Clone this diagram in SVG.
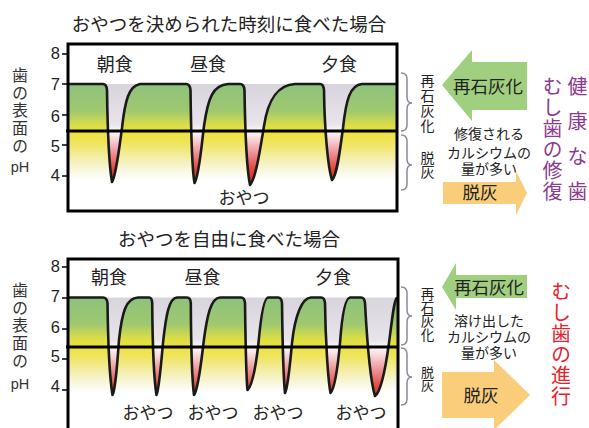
<svg xmlns="http://www.w3.org/2000/svg" width="589" height="428" viewBox="0 0 589 428">
<style>
text{font-family:"Noto Sans CJK JP","Liberation Sans",sans-serif;fill:#222}
.v{writing-mode:vertical-rl;text-orientation:upright}
.num{font-family:"Liberation Sans","Noto Sans CJK JP",sans-serif;font-size:16.5px;text-anchor:end}
.ttl{font-size:18.5px;text-anchor:middle}
.meal{font-size:18px;text-anchor:middle}
.snk{font-size:17px;text-anchor:middle}
.vy{font-size:16px;letter-spacing:1.7px;fill:#333}
.ph{font-family:"Liberation Sans",sans-serif;font-size:14.5px;text-anchor:middle;fill:#333}
.vs{font-size:14px;letter-spacing:1px}
.mid{font-family:"Liberation Sans","Noto Sans CJK JP",sans-serif;font-size:14px;text-anchor:middle}
.arr{font-size:17.5px;text-anchor:middle}
.pur{font-size:20px;fill:#8b3a8e}
.purh{font-size:20px;fill:#8b3a8e;text-anchor:middle}
.red{font-size:20px;letter-spacing:1px;fill:#e8232d}
.curve{fill:none;stroke:#1a1a1a;stroke-width:2.6;stroke-linejoin:round}
.box{fill:none;stroke:#000;stroke-width:3}
.hl{stroke:#000;stroke-width:3}
.tick{stroke:#000;stroke-width:1.5}
.brace{fill:none;stroke:#8a8a98;stroke-width:1.5}
.garr{fill:#9fcf7f}
.oarr{fill:#f9cd7a}
</style>
<defs>
<linearGradient id="bgT" gradientUnits="userSpaceOnUse" x1="0" y1="84" x2="0" y2="180">
<stop offset="0" stop-color="#8dc27c"/><stop offset="0.28" stop-color="#9fc870"/><stop offset="0.42" stop-color="#d8dc48"/><stop offset="0.5" stop-color="#ece23c"/><stop offset="0.62" stop-color="#f0e460"/><stop offset="0.78" stop-color="#f4eeae"/><stop offset="0.9" stop-color="#f9f7e0"/><stop offset="1" stop-color="#ffffff"/>
</linearGradient>
<linearGradient id="bgB" gradientUnits="userSpaceOnUse" x1="0" y1="297.5" x2="0" y2="393">
<stop offset="0" stop-color="#8dc27c"/><stop offset="0.28" stop-color="#9fc870"/><stop offset="0.42" stop-color="#d8dc48"/><stop offset="0.5" stop-color="#ece23c"/><stop offset="0.62" stop-color="#f0e460"/><stop offset="0.78" stop-color="#f4eeae"/><stop offset="0.9" stop-color="#f9f7e0"/><stop offset="1" stop-color="#ffffff"/>
</linearGradient>
<linearGradient id="dipT" gradientUnits="userSpaceOnUse" x1="0" y1="84" x2="0" y2="184">
<stop offset="0" stop-color="#d8d4dc"/><stop offset="0.4" stop-color="#e8e4ea"/><stop offset="0.47" stop-color="#fafafa"/><stop offset="0.56" stop-color="#f6d2d6"/><stop offset="0.7" stop-color="#ec8c90"/><stop offset="0.85" stop-color="#e2463a"/><stop offset="1" stop-color="#d83020"/>
</linearGradient>
<linearGradient id="dipB" gradientUnits="userSpaceOnUse" x1="0" y1="297.5" x2="0" y2="403">
<stop offset="0" stop-color="#d8d4dc"/><stop offset="0.4" stop-color="#e8e4ea"/><stop offset="0.47" stop-color="#fafafa"/><stop offset="0.56" stop-color="#f6d2d6"/><stop offset="0.7" stop-color="#ec8c90"/><stop offset="0.85" stop-color="#e2463a"/><stop offset="1" stop-color="#d83020"/>
</linearGradient>
</defs>
<rect width="589" height="428" fill="#fff"/>

<!-- Top chart -->
<g id="chart-top">
<text class="ttl" x="229" y="30.5">おやつを決められた時刻に食べた場合</text>
<rect x="68" y="84" width="329" height="102" fill="url(#dipT)"/>
<path fill="url(#bgT)" d="M68,84 H103 Q106.5,84 107,90 C107.5,125 109,165 112,182 C116,176 119,150 122,128 C125,100 129,86 140,84 H186 Q190,84 190.5,90 C191,130 192,170 194.5,183 C199,176 201,150 204,126 C208,98 213,85 228,84 H240 Q244,84 244.5,90 C245,125 247,170 250,185 C256,178 260,150 264,126 C268,100 277,85 295,84 H320 Q323.5,84 324,90 C324.5,130 328,168 332,180 C337,176 340,150 343,128 C346,100 350,85 362,84 H397 V188 H68 Z"/>
<path class="curve" d="M68,84 H103 Q106.5,84 107,90 C107.5,125 109,165 112,182 C116,176 119,150 122,128 C125,100 129,86 140,84 H186 Q190,84 190.5,90 C191,130 192,170 194.5,183 C199,176 201,150 204,126 C208,98 213,85 228,84 H240 Q244,84 244.5,90 C245,125 247,170 250,185 C256,178 260,150 264,126 C268,100 277,85 295,84 H320 Q323.5,84 324,90 C324.5,130 328,168 332,180 C337,176 340,150 343,128 C346,100 350,85 362,84 H397"/>
<line class="hl" x1="66" y1="131" x2="398" y2="131"/>
<rect class="box" x="68" y="44" width="329" height="167"/>
<path class="tick" d="M62,54 H68 M62,84 H68 M62,115 H68 M62,145 H68 M62,176 H68"/>
<text class="num" x="60" y="58.5">8</text>
<text class="num" x="60" y="90">7</text>
<text class="num" x="60" y="121.5">6</text>
<text class="num" x="60" y="151.5">5</text>
<text class="num" x="60" y="180.5">4</text>
<text class="v vy" x="20" y="67">歯の表面の</text>
<text class="ph" x="20" y="172">pH</text>
<text class="meal" x="114.7" y="70.5">朝食</text>
<text class="meal" x="208" y="70.5">昼食</text>
<text class="meal" x="339" y="70.5">夕食</text>
<text class="snk" x="244" y="204">おやつ</text>
</g>

<g id="legend-top">
<path class="brace" d="M401,73 Q407,73 407,79 V97 Q407,103 412,103 Q407,103 407,109 V125 Q407,131 401,131"/>
<path class="brace" d="M401,135 Q407,135 407,141 V159 Q407,165 412,165 Q407,165 407,171 V184 Q407,190 401,190"/>
<text class="v vs" x="427.5" y="73.5">再石灰化</text>
<text class="v vs" x="427.5" y="150.5" style="letter-spacing:0.5px">脱灰</text>
</g>
<g id="arrow-remin-top">
<polygon class="garr" points="442,85 472,50 472,62 527,62 527,110 472,110 472,121"/>
<text class="arr" x="488" y="93">再石灰化</text>
</g>
<g id="note-top">
<text class="mid" x="489" y="139">修復される</text>
<text class="mid" x="489" y="157.5">カルシウムの</text>
<text class="mid" x="489" y="174">量が多い</text>
</g>
<g id="arrow-demin-top">
<polygon class="oarr" points="443,182 516,182 516,171 527,193 516,215 516,204 443,204"/>
<text class="arr" x="480" y="199">脱灰</text>
</g>
<g id="label-healthy">
<text class="v pur" x="552.5" y="76" style="letter-spacing:1px">むし歯の修復</text>
<text class="purh" x="577.5" y="94">健</text>
<text class="purh" x="577.5" y="129">康</text>
<text class="purh" x="577.5" y="164">な</text>
<text class="purh" x="577.5" y="199">歯</text>
</g>

<!-- Bottom chart -->
<g id="chart-bottom">
<text class="ttl" x="229" y="245.5">おやつを自由に食べた場合</text>
<rect x="68" y="297.5" width="329" height="101" fill="url(#dipB)"/>
<path fill="url(#bgB)" d="M68,297.5 H103 Q107,297.5 107.5,303 C108,340 110,380 112.5,395 C116,388 117,365 119,340 C122,312 126,298 138,297.5 H149 Q152,297.5 152.2,303 C152.5,340 154,380 156.5,395 C159,390 161,365 163,343 C166,315 169,298 177,297.5 H187 Q190.5,297.5 190.8,303 C191,340 192,380 194,395 C198,390 201,365 203.5,343 C207,315 211,298 220,297.5 H241 Q244.5,297.5 245,303 C245.5,340 246,378 247.5,390 C252,386 256,365 258.5,343 C261,315 264,298 268,297.5 H278 Q281.5,297.5 282,303 C282.5,340 283.5,380 285,393 C288,388 290,365 292,343 C295,315 302,298 311,297.5 H321 Q324.5,297.5 325,303 C325.5,340 328,380 330.5,393 C335,388 338,365 340,343 C342,315 345,298 350,297.5 H361 Q364.5,297.5 365,303 C367,340 370,380 375,396 C381,392 386,365 389,343 C392,320 394,300 397,297.5 V400 H68 Z"/>
<path class="curve" d="M68,297.5 H103 Q107,297.5 107.5,303 C108,340 110,380 112.5,395 C116,388 117,365 119,340 C122,312 126,298 138,297.5 H149 Q152,297.5 152.2,303 C152.5,340 154,380 156.5,395 C159,390 161,365 163,343 C166,315 169,298 177,297.5 H187 Q190.5,297.5 190.8,303 C191,340 192,380 194,395 C198,390 201,365 203.5,343 C207,315 211,298 220,297.5 H241 Q244.5,297.5 245,303 C245.5,340 246,378 247.5,390 C252,386 256,365 258.5,343 C261,315 264,298 268,297.5 H278 Q281.5,297.5 282,303 C282.5,340 283.5,380 285,393 C288,388 290,365 292,343 C295,315 302,298 311,297.5 H321 Q324.5,297.5 325,303 C325.5,340 328,380 330.5,393 C335,388 338,365 340,343 C342,315 345,298 350,297.5 H361 Q364.5,297.5 365,303 C367,340 370,380 375,396 C381,392 386,365 389,343 C392,320 394,300 397,297.5"/>
<line class="hl" x1="66" y1="347" x2="398" y2="347"/>
<path class="box" d="M68,432 V259 H398 V432"/>
<path class="tick" d="M62,267 H68 M62,298 H68 M62,329 H68 M62,359 H68 M62,390 H68"/>
<text class="num" x="60" y="272">8</text>
<text class="num" x="60" y="302">7</text>
<text class="num" x="60" y="333">6</text>
<text class="num" x="60" y="362">5</text>
<text class="num" x="60" y="392">4</text>
<text class="v vy" x="20" y="282">歯の表面の</text>
<text class="ph" x="20" y="389">pH</text>
<text class="meal" x="109" y="284">朝食</text>
<text class="meal" x="202.5" y="284">昼食</text>
<text class="meal" x="333" y="284">夕食</text>
<text class="snk" x="148" y="419">おやつ</text>
<text class="snk" x="213" y="419">おやつ</text>
<text class="snk" x="278" y="419">おやつ</text>
<text class="snk" x="361" y="419">おやつ</text>
</g>

<g id="legend-bottom">
<path class="brace" d="M401,287 Q407,287 407,293 V310 Q407,316 412,316 Q407,316 407,322 V339 Q407,345 401,345"/>
<path class="brace" d="M401,348 Q407,348 407,354 V371 Q407,377 412,377 Q407,377 407,383 V399 Q407,405 401,405"/>
<text class="v vs" x="427.5" y="287" style="font-size:13.5px;letter-spacing:0.3px">再石灰化</text>
<text class="v vs" x="427.5" y="365.5" style="font-size:13px;letter-spacing:0px">脱灰</text>
</g>
<g id="arrow-remin-bottom">
<polygon class="garr" points="442,287 456,263 456,275 527,275 527,298 456,298 456,310"/>
<text class="arr" x="489" y="293.5">再石灰化</text>
</g>
<g id="note-bottom">
<text class="mid" x="489" y="326">溶け出した</text>
<text class="mid" x="489" y="342">カルシウムの</text>
<text class="mid" x="489" y="358">量が多い</text>
</g>
<g id="arrow-demin-bottom">
<polygon class="oarr" points="442,372 494,372 494,360 530,395 494,430 494,418 442,418"/>
<text class="arr" x="481" y="401.5">脱灰</text>
</g>
<g id="label-decay">
<text class="v red" x="561" y="281">むし歯の進行</text>
</g>
</svg>
